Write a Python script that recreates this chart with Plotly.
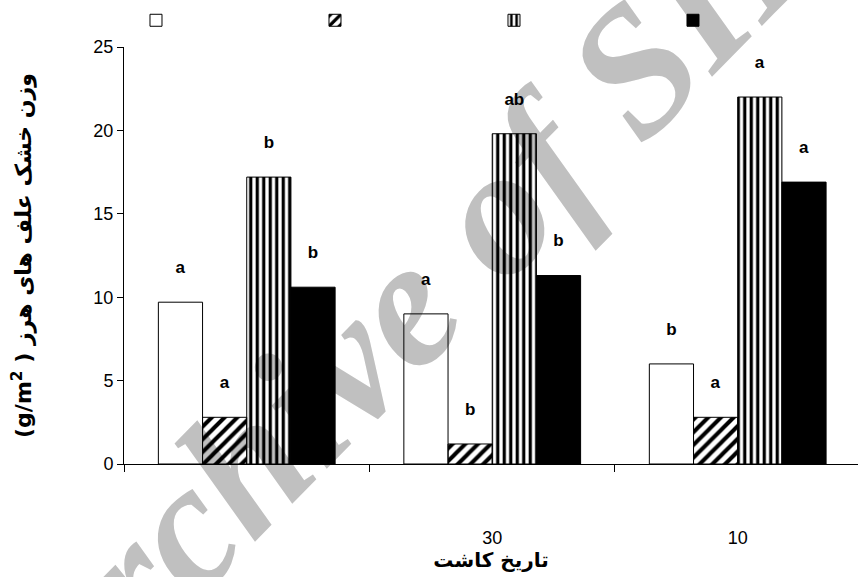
import plotly.graph_objects as go

# ---- data ----
category_ids = ["d1", "d2", "d3"]
tick_labels = ["", "30", "10"]
series_names = ["\u00a0", "\u00a0\u00a0", "\u00a0\u00a0\u00a0", "\u00a0\u00a0\u00a0\u00a0"]
values_white = [9.7, 9.0, 6.0]
values_diag = [2.8, 1.2, 2.8]
values_vert = [17.2, 19.8, 22.0]
values_black = [10.6, 11.3, 16.9]
letters_white = ["a", "a", "b"]
letters_diag = ["a", "b", "a"]
letters_vert = ["b", "ab", "a"]
letters_black = ["b", "b", "a"]

y_title = "(g/m<sup>2</sup> ) وزن خشک علف های هرز"
x_title = "تاریخ کاشت"
watermark = "Archive of SID"

series = [
    (series_names[0], values_white, letters_white, dict(color="rgba(255,255,255,0)")),
    (series_names[1], values_diag, letters_diag,
     dict(color="black", pattern=dict(shape="/", size=9, solidity=0.45, fillmode="replace"))),
    (series_names[2], values_vert, letters_vert,
     dict(color="black", pattern=dict(shape="|", size=6.5, solidity=0.5, fillmode="replace"))),
    (series_names[3], values_black, letters_black, dict(color="black")),
]

fig = go.Figure()
for name, vals, letters, marker in series:
    marker = dict(marker)
    marker["line"] = dict(color="black", width=1)
    fig.add_trace(go.Bar(
        name=name,
        x=category_ids,
        y=vals,
        marker=marker,
        text=[f"{l}<br>\u00a0" for l in letters],
        textposition="outside",
        textfont=dict(family="Liberation Sans, Arial, sans-serif", size=17,
                      color="black", weight="bold"),
        cliponaxis=False,
    ))

fig.add_shape(
    type="rect", xref="paper", yref="paper",
    x0=0.371, x1=0.381, y0=0.441, y1=0.451,
    line=dict(width=0), fillcolor="rgba(0,0,0,0)", layer="below",
    label=dict(text=watermark, textangle=-45.5, textposition="middle center",
               font=dict(family="Liberation Serif, serif", size=182,
                         color="#c0c0c0", style="italic", weight="bold")),
)

fig.update_layout(
    width=858, height=577,
    margin=dict(l=124, r=0, t=47, b=113, autoexpand=False),
    paper_bgcolor="white", plot_bgcolor="rgba(0,0,0,0)",
    barmode="group", bargap=0.28, bargroupgap=0,
    showlegend=True,
    legend=dict(orientation="h", xref="container", yref="container",
                x=0.1585, xanchor="left", y=0.99, yanchor="top",
                entrywidth=134, entrywidthmode="pixels",
                bgcolor="rgba(0,0,0,0)", font=dict(size=12),
                traceorder="normal"),
    font=dict(family="Liberation Sans, Arial, sans-serif", color="black"),
)

fig.update_xaxes(
    type="category", tickvals=category_ids, ticktext=tick_labels,
    range=[-0.5, 2.49], automargin=False,
    showline=True, linecolor="black", linewidth=1,
    ticks="outside", tickson="boundaries", ticklen=7, tickcolor="black",
    tickfont=dict(size=18, family="Liberation Sans, Arial, sans-serif"),
    ticklabelstandoff=57,
    showgrid=False, zeroline=False,
    title=dict(text=x_title, standoff=4,
               font=dict(family="DejaVu Sans, sans-serif", size=20, weight="bold")),
)
fig.update_yaxes(
    range=[0, 25], dtick=5, automargin=False,
    showline=True, linecolor="black", linewidth=1,
    ticks="outside", ticklen=6, tickcolor="black",
    tickfont=dict(size=18, family="Liberation Sans, Arial, sans-serif"),
    showgrid=False, zeroline=False,
    title=dict(text=y_title, standoff=55,
               font=dict(family="DejaVu Sans, sans-serif", size=22, weight="bold")),
)

fig.write_html("out.html", config={"displayModeBar": False},
               post_script="document.body.style.margin='0';")
